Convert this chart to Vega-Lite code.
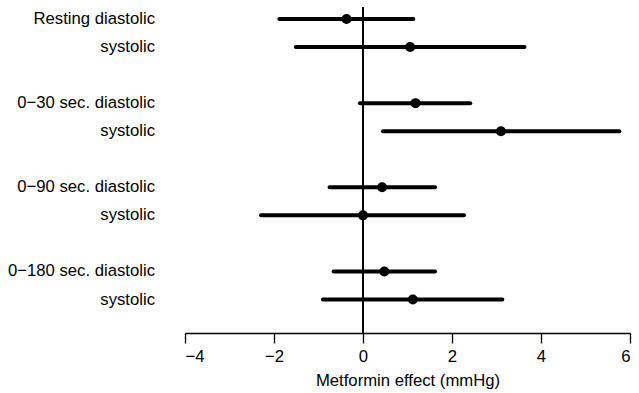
{
  "$schema": "https://vega.github.io/schema/vega-lite/v6.json",
  "width": 445,
  "height": 326,
  "autosize": {"type": "none"},
  "padding": {"left": 185, "top": 7, "right": 9, "bottom": 60},
  "background": "white",
  "config": {"view": {"stroke": null}, "font": "Liberation Sans"},
  "data": {
    "values": [
      {"id": "rd", "label": "Resting diastolic", "est": -0.37, "lo": -1.88, "hi": 1.13},
      {"id": "rs", "label": "systolic", "est": 1.06, "lo": -1.51, "hi": 3.63},
      {"id": "30d", "label": "0\u221230 sec. diastolic", "est": 1.18, "lo": -0.07, "hi": 2.41},
      {"id": "30s", "label": "systolic", "est": 3.10, "lo": 0.45, "hi": 5.76},
      {"id": "90d", "label": "0\u221290 sec. diastolic", "est": 0.43, "lo": -0.75, "hi": 1.62},
      {"id": "90s", "label": "systolic", "est": 0.0, "lo": -2.29, "hi": 2.27},
      {"id": "180d", "label": "0\u2212180 sec. diastolic", "est": 0.48, "lo": -0.66, "hi": 1.62},
      {"id": "180s", "label": "systolic", "est": 1.12, "lo": -0.90, "hi": 3.13}
    ]
  },
  "layer": [
    {
      "mark": {"type": "rule", "color": "black", "strokeWidth": 1.2},
      "encoding": {
        "x": {"datum": 0, "type": "quantitative", "scale": {"domain": [-4, 6], "nice": false, "zero": false}}
      }
    },
    {
      "mark": {"type": "rule", "color": "black", "strokeWidth": 4, "strokeCap": "round"},
      "encoding": {
        "x": {
          "field": "lo", "type": "quantitative",
          "scale": {"domain": [-4, 6], "nice": false, "zero": false},
          "axis": {
            "title": "Metformin effect (mmHg)",
            "values": [-4, -2, 0, 2, 4, 6],
            "grid": false,
            "offset": 0,
            "domainColor": "black", "domainWidth": 1.3,
            "tickColor": "black", "tickWidth": 1.3, "tickSize": 10,
            "labelColor": "black", "labelFontSize": 16.7, "labelPadding": 5,
            "titleColor": "black", "titleFontSize": 16.7, "titleFontWeight": "normal", "titlePadding": 8
          }
        },
        "x2": {"field": "hi"},
        "y": {
          "field": "id", "type": "nominal",
          "scale": {"type": "point", "domain": ["rd", "rs", "g1", "30d", "30s", "g2", "90d", "90s", "g3", "180d", "180s"], "range": [12, 292.5], "padding": 0},
          "axis": null
        }
      }
    },
    {
      "mark": {"type": "point", "filled": true, "shape": "circle", "size": 100, "color": "black", "opacity": 1},
      "encoding": {
        "x": {"field": "est", "type": "quantitative"},
        "y": {"field": "id", "type": "nominal"}
      }
    },
    {
      "mark": {"type": "text", "align": "right", "baseline": "middle", "dx": -30, "fontSize": 16.7, "color": "black"},
      "encoding": {
        "x": {"datum": -4, "type": "quantitative"},
        "y": {"field": "id", "type": "nominal"},
        "text": {"field": "label"}
      }
    }
  ]
}
